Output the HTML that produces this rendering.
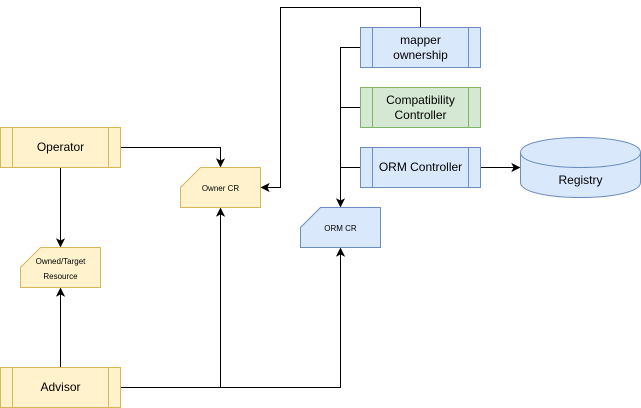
<!DOCTYPE html>
<html>
<head>
<meta charset="utf-8">
<style>
html,body{margin:0;padding:0;background:#fff;width:641px;height:408px;overflow:hidden}
svg{display:block}
text{font-family:"Liberation Sans",Helvetica,Arial,sans-serif;fill:#000;text-anchor:middle}
.t{font-size:12px}
.s{font-size:8px}
.y{fill:#fff2cc;stroke:#d6b656}
.b{fill:#dae8fc;stroke:#6c8ebf}
.g{fill:#d5e8d4;stroke:#82b366}
.e{fill:none;stroke:#000}
.a{fill:#000;stroke:#000}
</style>
</head>
<body>
<svg width="641" height="408" viewBox="0 0 641 408" xmlns="http://www.w3.org/2000/svg">
<!-- connectors -->
<path class="e" d="M120.5 147.5H220.5V161.13"/>
<path class="a" d="M220.5 166.38L217 159.38L220.5 161.13L224 159.38Z"/>
<path class="e" d="M60.5 167.5V241.13"/>
<path class="a" d="M60.5 246.38L57 239.38L60.5 241.13L64 239.38Z"/>
<path class="e" d="M60.5 367.5V293.87"/>
<path class="a" d="M60.5 288.62L57 295.62L60.5 293.87L64 295.62Z"/>
<path class="e" d="M120.5 387.5H220.5V213.87"/>
<path class="a" d="M220.5 208.62L217 215.62L220.5 213.87L224 215.62Z"/>
<path class="e" d="M120.5 387.5H340.5V253.87"/>
<path class="a" d="M340.5 248.62L337 255.62L340.5 253.87L344 255.62Z"/>
<path class="e" d="M420.5 27.5V7.5H280.5V187.5H266.87"/>
<path class="a" d="M261.62 187.5L268.62 184L266.87 187.5L268.62 191Z"/>
<path class="e" d="M360.5 47.5H340.5V201.13"/>
<path class="a" d="M340.5 206.38L337 199.38L340.5 201.13L344 199.38Z"/>
<path class="e" d="M360.5 107.5H340.5"/>
<path class="e" d="M360.5 167.5H340.5"/>
<path class="e" d="M480.5 167.5H514.13"/>
<path class="a" d="M519.38 167.5L512.38 171L514.13 167.5L512.38 164Z"/>

<!-- Operator -->
<rect class="y" x="0.5" y="127.5" width="120" height="40"/>
<path class="y" d="M12.5 127.5V167.5M108.5 127.5V167.5"/>
<text class="t" x="60.5" y="151">Operator</text>

<!-- Advisor -->
<rect class="y" x="0.5" y="367.5" width="120" height="40"/>
<path class="y" d="M12.5 367.5V407.5M108.5 367.5V407.5"/>
<text class="t" x="60.5" y="391">Advisor</text>

<!-- Owner CR -->
<path class="y" d="M200.5 167.5H260.5V207.5H180.5V187.5Z"/>
<text class="s" x="220.5" y="191">Owner CR</text>

<!-- Owned/Target Resource -->
<path class="y" d="M40.5 247.5H100.5V287.5H20.5V267.5Z"/>
<text class="s" x="60.5" y="264">Owned/Target</text>
<text class="s" x="60.5" y="279">Resource</text>

<!-- ORM CR -->
<path class="b" d="M320.5 207.5H380.5V247.5H300.5V227.5Z"/>
<text class="s" x="340.5" y="231">ORM CR</text>

<!-- mapper ownership -->
<rect class="b" x="360.5" y="27.5" width="120" height="40"/>
<path class="b" d="M372.5 27.5V67.5M468.5 27.5V67.5"/>
<text class="t" x="420.5" y="44">mapper</text>
<text class="t" x="420.5" y="59">ownership</text>

<!-- Compatibility Controller -->
<rect class="g" x="360.5" y="87.5" width="120" height="40"/>
<path class="g" d="M372.5 87.5V127.5M468.5 87.5V127.5"/>
<text class="t" x="420.5" y="104">Compatibility</text>
<text class="t" x="420.5" y="119">Controller</text>

<!-- ORM Controller -->
<rect class="b" x="360.5" y="147.5" width="120" height="40"/>
<path class="b" d="M372.5 147.5V187.5M468.5 147.5V187.5"/>
<text class="t" x="420.5" y="171">ORM Controller</text>

<!-- Registry -->
<path class="b" d="M520.5 152.5C520.5 132.5 640.5 132.5 640.5 152.5V182.5C640.5 202.5 520.5 202.5 520.5 182.5Z"/>
<path class="b" style="fill:none" d="M520.5 152.5C520.5 172.5 640.5 172.5 640.5 152.5"/>
<text class="t" x="580.5" y="184">Registry</text>
</svg>
</body>
</html>
